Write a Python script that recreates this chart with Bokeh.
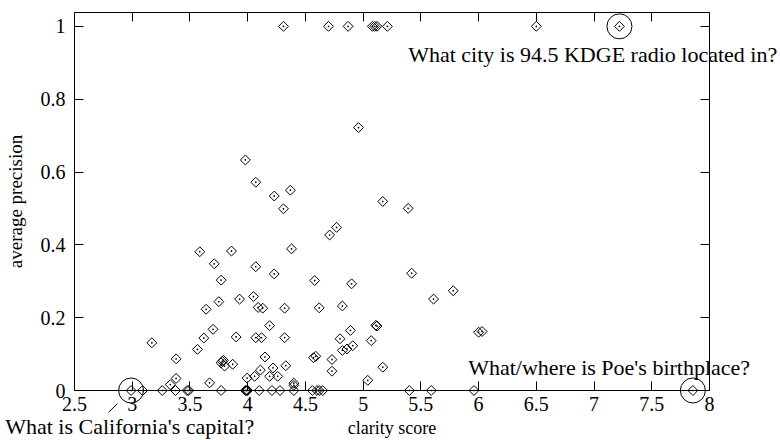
import math
from bokeh.plotting import figure
from bokeh.models import FixedTicker, LinearAxis, Range1d
from bokeh.core.properties import value
from bokeh.embed import file_html
from bokeh.resources import INLINE

# clarity score (x) and average precision (y) per question
clarity = [
    4.31, 4.70, 4.87, 5.08, 5.10, 5.12, 5.21, 6.50, 7.22,
    3.98, 4.07, 4.96, 4.23, 4.37, 4.31, 5.17, 5.39, 4.77, 4.71,
    3.585, 3.86, 4.38, 3.71, 4.07, 4.23, 3.77, 4.58, 4.90, 5.42,
    3.75, 3.93, 4.05, 4.09, 4.13, 4.32, 3.64, 4.62, 4.82, 5.61, 5.78,
    3.70, 3.62, 3.90, 4.07, 4.12, 4.32, 4.19, 3.17, 3.565, 5.11, 5.12,
    4.89, 4.80, 5.07, 4.91, 4.86, 4.82, 6.00, 6.03,
    3.38, 3.78, 3.77, 3.79, 3.87, 3.80, 4.15, 4.33, 4.22, 4.11, 4.19,
    4.26, 4.06, 3.995, 3.38, 3.33, 3.67, 4.40, 4.40, 4.57, 4.59, 4.73,
    4.73, 5.17, 5.04,
    2.99, 3.09, 3.26, 3.375, 3.475, 3.49, 3.77, 3.98, 3.99, 4.00, 4.10,
    4.21, 4.28, 4.40, 4.56, 4.60, 4.62, 4.65, 5.40, 5.59, 5.96, 7.856,
]
avg_prec = [
    1, 1, 1, 1, 1, 1, 1, 1, 1,
    0.633, 0.572, 0.722, 0.534, 0.550, 0.499, 0.519, 0.500, 0.448, 0.427,
    0.381, 0.383, 0.389, 0.348, 0.340, 0.320, 0.303, 0.302, 0.293, 0.322,
    0.244, 0.251, 0.258, 0.228, 0.226, 0.226, 0.223, 0.227, 0.232, 0.251, 0.274,
    0.168, 0.144, 0.147, 0.145, 0.145, 0.145, 0.178, 0.131, 0.113, 0.179, 0.177,
    0.165, 0.142, 0.137, 0.123, 0.114, 0.110, 0.160, 0.162,
    0.087, 0.080, 0.076, 0.083, 0.072, 0.067, 0.092, 0.068, 0.062, 0.056, 0.039,
    0.039, 0.039, 0.034, 0.033, 0.016, 0.021, 0.014, 0.020, 0.090, 0.094, 0.085,
    0.053, 0.064, 0.028,
    0, 0, 0, 0, 0, 0, 0, 0, 0, 0, 0,
    0, 0, 0, 0, 0, 0, 0, 0, 0, 0, 0,
]

# highlighted questions
hl_clarity = [2.99, 7.22, 7.856]
hl_prec = [0, 1, 0]
hl_text = ["What is California's capital?",
           "What city is 94.5 KDGE radio located in?",
           "What/where is Poe's birthplace?"]
hl_text_x = [1.90, 5.39, 5.91]
hl_text_y = [-0.098, 0.922, 0.062]

# pointer arrow for the California question
arrow_x = [2.795, 2.872]
arrow_y = [-0.060, -0.036]

xticks = [2.5, 3, 3.5, 4, 4.5, 5, 5.5, 6, 6.5, 7, 7.5, 8]
xtick_labels = ["2.5", "3", "3.5", "4", "4.5", "5", "5.5", "6", "6.5", "7", "7.5", "8"]
yticks = [0, 0.2, 0.4, 0.6, 0.8, 1]
ytick_labels = ["0", "0.2", "0.4", "0.6", "0.8", "1"]

FONT = "Liberation Serif"

p = figure(width=780, height=440, output_backend="svg", toolbar_location=None,
           x_range=Range1d(2.5, 8), y_range=Range1d(0, 1.038),
           min_border_left=74, min_border_right=71, min_border_top=12,
           min_border_bottom=49)
p.grid.visible = False
p.outline_line_color = "black"
p.outline_line_width = 1
p.background_fill_color = "white"
p.border_fill_color = "white"

p.scatter(clarity, avg_prec, marker="square_dot", angle=math.pi / 4, size=7,
          fill_color=None, line_color="black", line_width=1, level="overlay")
p.scatter(hl_clarity, hl_prec, marker="circle", size=25,
          fill_color=None, line_color="black", line_width=1, level="overlay")

p.text(x=hl_text_x, y=hl_text_y, text=hl_text, text_font=value(FONT),
       text_font_size=value("22px"), text_color="black", text_align="left",
       text_baseline="alphabetic", level="overlay")

p.segment(x0=[arrow_x[0]], y0=[arrow_y[0]], x1=[arrow_x[1]], y1=[arrow_y[1]],
          line_color="black", line_width=1, level="overlay")
p.scatter(x=[arrow_x[1]], y=[arrow_y[1]], marker="triangle", size=8,
          angle=-math.pi / 4, fill_color="black", line_color="black",
          level="overlay")

def style_axis(ax, ticks):
    ax.ticker = FixedTicker(ticks=ticks)
    ax.axis_line_color = "black"
    ax.major_tick_in = 9
    ax.major_tick_out = 0
    ax.minor_tick_line_color = None
    ax.major_label_text_font = FONT
    ax.major_label_text_font_size = "20px"
    ax.major_label_text_color = "black"
    ax.axis_label_text_font = FONT
    ax.axis_label_text_font_style = "normal"
    ax.axis_label_text_color = "black"

xa = p.xaxis[0]
style_axis(xa, xticks)
xa.major_label_overrides = {t: l for t, l in zip(xticks, xtick_labels)}
xa.major_label_standoff = 6
xa.axis_label = "clarity score"
xa.axis_label_text_font_size = "18px"
xa.axis_label_standoff = 4

ya = p.yaxis[0]
style_axis(ya, yticks)
ya.major_label_overrides = {t: l for t, l in zip(yticks, ytick_labels)}
ya.major_label_standoff = 9
ya.axis_label = "average precision"
ya.axis_label_text_font_size = "19px"
ya.axis_label_standoff = 12

top = LinearAxis()
right = LinearAxis()
p.add_layout(top, "above")
p.add_layout(right, "right")
for ax, ticks in ((top, xticks), (right, yticks)):
    ax.ticker = FixedTicker(ticks=ticks)
    ax.major_tick_in = 9
    ax.major_tick_out = 0
    ax.minor_tick_line_color = None
    ax.major_label_overrides = {t: "" for t in ticks}
    ax.major_label_text_font_size = "1px"
    ax.major_label_standoff = 0
    ax.axis_line_color = "black"

open("out.html", "w").write(file_html(p, INLINE))
